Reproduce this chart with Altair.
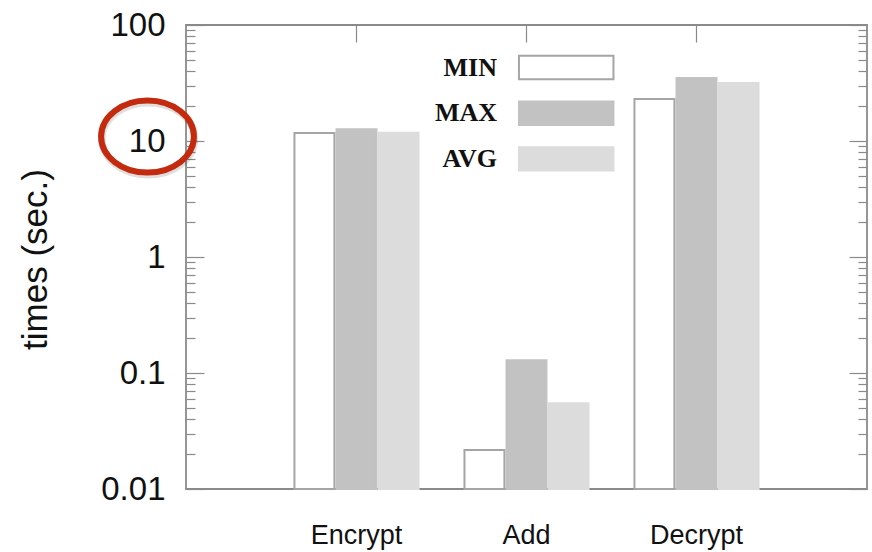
import altair as alt
import pandas as pd

# ---- data ----
operations = ["Encrypt", "Add", "Decrypt"]
stats = ["MIN", "MAX", "AVG"]
min_times = [11.7, 0.0217, 23.0]
max_times = [12.6, 0.129, 34.9]
avg_times = [11.8, 0.0548, 31.6]

y_major = [0.01, 0.1, 1, 10, 100]
y_all_ticks = [0.01, 0.02, 0.03, 0.04, 0.05, 0.06, 0.07, 0.08, 0.09,
               0.1, 0.2, 0.3, 0.4, 0.5, 0.6, 0.7, 0.8, 0.9,
               1, 2, 3, 4, 5, 6, 7, 8, 9,
               10, 20, 30, 40, 50, 60, 70, 80, 90, 100]
highlight = [10]

rows = []
for i, op in enumerate(operations):
    rows.append({"op": op, "stat": "MIN", "time": min_times[i]})
    rows.append({"op": op, "stat": "MAX", "time": max_times[i]})
    rows.append({"op": op, "stat": "AVG", "time": avg_times[i]})
df = pd.DataFrame(rows)

W, H = 681, 464
SANS = "Liberation Sans"
SERIF = "Liberation Serif"
TXT = "#111111"
GRAYLINE = "#8a8a8a"

fills = ["#ffffff", "#c2c2c2", "#dcdcdc"]
strokes = ["#a5a5a5", "#c2c2c2", "#dcdcdc"]

xscale = alt.Scale(paddingInner=0.27, paddingOuter=0.638)
yscale = alt.Scale(type="log", domain=[0.01, 100], nice=False)
offscale = alt.Scale(paddingInner=0.05)

major_test = "indexof([0.01,0.1,1,10,100], datum.value) >= 0"
tick_cond = {"condition": {"test": major_test, "value": 18}, "value": 9}

legend_kw = dict(
    orient="none", legendX=264, legendY=19, title=None,
    symbolType="M2.02,-0.52H6.22V0.52H2.02Z", symbolSize=2025,
    symbolStrokeWidth=2, symbolOpacity=1,
    labelFont=SERIF, labelFontSize=26, labelFontWeight="bold", labelColor=TXT,
    labelAlign="right", labelOffset=0, rowPadding=5.7, padding=0,
)

base = alt.Chart(df)
x_off = alt.XOffset("stat:N", sort=stats, scale=offscale)

bars = base.mark_bar(strokeWidth=2).encode(
    x=alt.X("op:N", sort=operations, scale=xscale,
            axis=alt.Axis(title=None, labelAngle=0, ticks=False, domain=False,
                          grid=False, labelFont=SANS, labelFontSize=27,
                          labelColor=TXT, labelPadding=33)),
    xOffset=x_off,
    y=alt.Y("time:Q", scale=yscale,
            axis=alt.Axis(values=y_major, format="~g", ticks=False, domain=False,
                          grid=False, labelFont=SANS, labelFontSize=33,
                          labelColor=TXT, labelPadding=21,
                          title="times (sec.)", titleFont=SANS, titleFontSize=35,
                          titleFontWeight="normal", titleColor=TXT,
                          titleAngle=-90, titleX=-151, titleY=234,
                          titleAlign="center", titleBaseline="middle")),
    y2=alt.datum(0.01),
    fill=alt.Fill("stat:N", sort=stats,
                  scale=alt.Scale(domain=stats, range=fills),
                  legend=alt.Legend(**legend_kw)),
    stroke=alt.Stroke("stat:N", sort=stats,
                      scale=alt.Scale(domain=stats, range=strokes),
                      legend=alt.Legend(**legend_kw)),
)

# inward minor/major ticks on the left edge
left_ticks = base.mark_bar(opacity=0).encode(
    x=alt.X("op:N", sort=operations, scale=xscale, axis=None),
    xOffset=x_off,
    y=alt.Y("time:Q", scale=yscale,
            axis=alt.Axis(orient="right", offset=-W, values=y_all_ticks,
                          labels=False, domain=False, grid=False, title=None,
                          tickSize=tick_cond, tickColor=GRAYLINE, tickWidth=1.2)),
    y2=alt.datum(0.01),
)

# inward ticks on the right edge
right_ticks = base.mark_bar(opacity=0).encode(
    x=alt.X("op:N", sort=operations, scale=xscale, axis=None),
    xOffset=x_off,
    y=alt.Y("time:Q", scale=yscale,
            axis=alt.Axis(orient="left", offset=-W, values=y_all_ticks,
                          labels=False, domain=False, grid=False, title=None,
                          tickSize=tick_cond, tickColor=GRAYLINE, tickWidth=1.2)),
    y2=alt.datum(0.01),
)

# inward ticks on the top edge at group centres
top_ticks = base.mark_bar(opacity=0).encode(
    x=alt.X("op:N", sort=operations, scale=xscale,
            axis=alt.Axis(orient="bottom", offset=-H, labels=False, domain=False,
                          grid=False, title=None, ticks=True, tickSize=17,
                          tickColor=GRAYLINE, tickWidth=1.2)),
    xOffset=x_off,
    y=alt.Y("time:Q", scale=yscale, axis=None),
    y2=alt.datum(0.01),
)

# red highlight ellipse (with a soft shadow) around the "10" tick label
hl = alt.Chart(pd.DataFrame({"v": highlight}))
shadow_path = "M-1.14,-0.05 A1.16,0.9 0 1,0 1.18,-0.05 A1.16,0.9 0 1,0 -1.14,-0.05 Z"
ellipse_path = "M-1.16,-0.11 A1.16,0.9 0 1,0 1.16,-0.11 A1.16,0.9 0 1,0 -1.16,-0.11 Z"
shadow = hl.mark_point(
    shape=shadow_path, size=6400, filled=False, stroke="#000000",
    strokeWidth=7, opacity=0.12,
).encode(
    x=alt.value(-38.5),
    y=alt.Y("v:Q", scale=yscale, axis=None),
)
circle = hl.mark_point(
    shape=ellipse_path, size=6400, filled=False, stroke="#c42b0e",
    strokeWidth=6, opacity=1,
).encode(
    x=alt.value(-38.5),
    y=alt.Y("v:Q", scale=yscale, axis=None),
)

chart = alt.layer(bars, left_ticks, right_ticks, top_ticks, shadow, circle).resolve_axis(
    x="independent", y="independent"
).properties(
    width=W, height=H,
    autosize=alt.AutoSizeParams(type="none"),
    padding={"left": 186, "top": 25, "right": 5, "bottom": 63},
    background="white",
).configure_view(
    stroke=GRAYLINE, strokeWidth=1.8
)

chart.save("out.html", embed_options={"renderer": "svg", "actions": False})
